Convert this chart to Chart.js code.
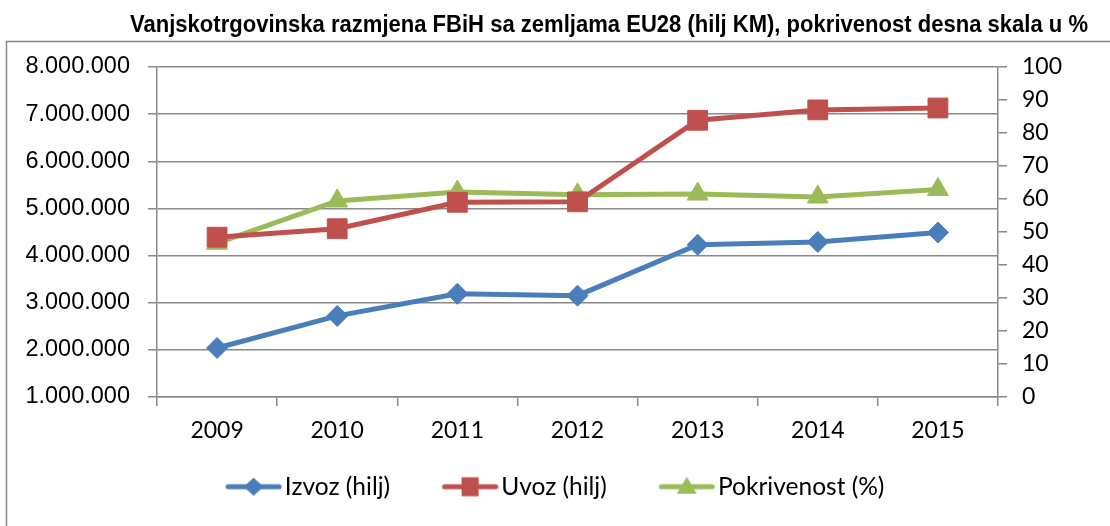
<!DOCTYPE html>
<html><head><meta charset="utf-8">
<script src="https://cdn.jsdelivr.net/npm/chart.js@4.4.0/dist/chart.umd.min.js"></script>
<style>html,body{margin:0;padding:0;background:#fff;}#wrap{width:1110px;height:526px;position:relative;}</style>
</head><body><div id="wrap"><canvas id="c" width="1110" height="526"></canvas></div>
<script>
const chartTitle = 'Vanjskotrgovinska razmjena FBiH sa zemljama EU28 (hilj KM), pokrivenost desna skala u %';
const years = ['2009', '2010', '2011', '2012', '2013', '2014', '2015'];
const izvoz = [2040000, 2720000, 3190000, 3150000, 4230000, 4290000, 4490000];
const uvoz = [4390000, 4570000, 5130000, 5140000, 6870000, 7090000, 7130000];
const pokrivenost = [46.6, 59.4, 62.1, 61.3, 61.5, 60.6, 62.9];
const seriesNames = ['Izvoz (hilj)', 'Uvoz (hilj)', 'Pokrivenost (%)'];
const leftAxisRange = [1000000, 8000000, 1000000];
const rightAxisRange = [0, 100, 10];

const COLORS = ['#4A7EBB', '#C0504D', '#9BBB59'];
const STYLES = ['rectRot', 'rect', 'triangle'];
const GRID = '#898989';
const ICON_MARGIN = 30;

function fmt(v) { return String(Math.round(v)).replace(/\B(?=(\d{3})+(?!\d))/g, '.'); }

function makeIcon(color, style) {
  const cv = document.createElement('canvas');
  cv.width = 57 + ICON_MARGIN; cv.height = 24;
  const g = cv.getContext('2d');
  g.translate(ICON_MARGIN, 0);
  g.strokeStyle = color; g.fillStyle = color; g.lineWidth = 5; g.lineCap = 'round';
  g.beginPath(); g.moveTo(3, 12); g.lineTo(54, 12); g.stroke();
  const cx = 28.5, cy = 12;
  g.beginPath();
  if (style === 'rectRot') {
    g.moveTo(cx - 10, cy); g.lineTo(cx, cy - 9); g.lineTo(cx + 10, cy); g.lineTo(cx, cy + 9); g.closePath();
  } else if (style === 'rect') {
    g.rect(cx - 8.5, cy - 9.5, 17, 19);
  } else {
    g.moveTo(cx, cy - 10); g.lineTo(cx + 10, cy + 7); g.lineTo(cx - 10, cy + 7); g.closePath();
  }
  g.fill();
  return cv;
}
const icons = COLORS.map((c, i) => makeIcon(c, STYLES[i]));

const framePlugin = {
  id: 'frame',
  beforeDraw(chart) {
    const ctx = chart.ctx;
    ctx.save();
    ctx.fillStyle = '#fff'; ctx.fillRect(0, 0, chart.width, chart.height);
    ctx.strokeStyle = GRID; ctx.lineWidth = 1.5;
    ctx.beginPath(); ctx.moveTo(6.5, chart.height); ctx.lineTo(6.5, 41.5); ctx.lineTo(chart.width, 41.5); ctx.stroke();
    ctx.font = 'bold 23px "Liberation Sans", Arial, sans-serif';
    ctx.fillStyle = '#000'; ctx.textBaseline = 'alphabetic'; ctx.textAlign = 'center';
    const w = ctx.measureText(chartTitle).width;
    const sx = 958 / w;
    ctx.translate(609, 32); ctx.scale(sx, 1);
    ctx.fillText(chartTitle, 0, 0);
    ctx.restore();
  }
};

function ds(label, data, i, axis, radius) {
  return {
    label, data, yAxisID: axis,
    borderColor: COLORS[i], backgroundColor: COLORS[i],
    borderWidth: 5, tension: 0,
    pointStyle: STYLES[i], pointRadius: radius, pointBorderWidth: 1,
    pointBackgroundColor: COLORS[i], pointBorderColor: COLORS[i]
  };
}

new Chart(document.getElementById('c'), {
  type: 'line',
  data: {
    labels: years,
    datasets: [
      ds(seriesNames[0], izvoz, 0, 'y', 10.5),
      ds(seriesNames[1], uvoz, 1, 'y', 14),
      ds(seriesNames[2], pokrivenost, 2, 'y1', 12)
    ]
  },
  options: {
    responsive: false, animation: false, events: [], devicePixelRatio: 1,
    layout: { padding: { left: 0, right: 21, top: 67, bottom: 17 } },
    plugins: {
      title: { display: false }, tooltip: { enabled: false },
      legend: {
        position: 'bottom',
        labels: {
          usePointStyle: true, pointStyleWidth: 57 + ICON_MARGIN - 19, padding: 31,
          color: '#000', font: { family: 'Lato', size: 24.5 },
          generateLabels(chart) {
            return chart.data.datasets.map((d, i) => ({
              text: d.label, pointStyle: icons[i], fillStyle: COLORS[i], strokeStyle: COLORS[i],
              lineWidth: 0, hidden: false, datasetIndex: i, fontColor: '#000'
            }));
          }
        }
      }
    },
    scales: {
      x: {
        offset: true,
        afterFit(s) { s.height = 46.5; },
        grid: { display: true, drawOnChartArea: false, drawTicks: true, tickLength: 9, offset: true, color: GRID, lineWidth: 1.5 },
        border: { display: true, color: GRID, width: 1.5 },
        ticks: { color: '#000', font: { family: 'Lato', size: 23 }, padding: 11, maxRotation: 0, autoSkip: false }
      },
      y: {
        position: 'left',
        min: leftAxisRange[0], max: leftAxisRange[1],
        afterFit(s) { s.width = 157; },
        grid: { color: GRID, lineWidth: 1.5, drawTicks: true, tickLength: 9, tickColor: GRID },
        border: { display: true, color: GRID, width: 1.5 },
        ticks: { stepSize: leftAxisRange[2], color: '#000', padding: 18, font: { family: '"Liberation Sans", Arial', size: 23.5 }, callback: v => fmt(v) }
      },
      y1: {
        position: 'right',
        min: rightAxisRange[0], max: rightAxisRange[1],
        afterFit(s) { s.width = 91; },
        grid: { drawOnChartArea: false, drawTicks: true, tickLength: 9, color: GRID, lineWidth: 1.5 },
        border: { display: true, color: GRID, width: 1.5 },
        ticks: { stepSize: rightAxisRange[2], color: '#000', padding: 15, font: { family: 'Lato', size: 23 } }
      }
    }
  },
  plugins: [framePlugin]
});
</script></body></html>
